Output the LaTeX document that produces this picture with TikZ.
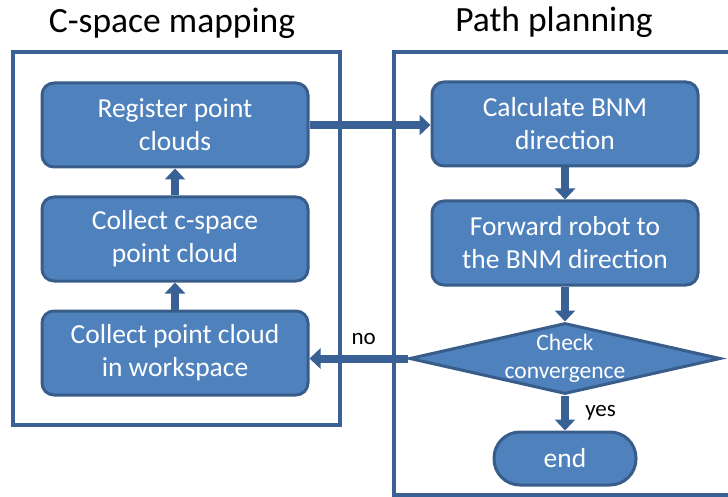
\documentclass[tikz,border=0pt]{standalone}
\usepackage{fontspec}
\setmainfont{Carlito}
\usetikzlibrary{arrows.meta,positioning,shapes.geometric}

\definecolor{boxfill}{HTML}{4F81BD}
\definecolor{boxline}{HTML}{385D8A}
\definecolor{frameline}{HTML}{3A6195}

\begin{document}
\begin{tikzpicture}[
    x=1pt, y=-1pt,
    node distance=27pt,
    box/.style={rectangle, draw=boxline, fill=boxfill, line width=3pt, rounded corners=12pt, minimum width=266pt, minimum height=84pt, align=center, text=white, font=\fontsize{27.5}{33}\selectfont},
    decision/.style={diamond, draw=boxline, fill=boxfill, line width=3pt, aspect=4.3, inner xsep=-2pt, inner ysep=-4pt, minimum width=311pt, minimum height=71pt, align=center, text=white, font=\fontsize{23.5}{28}\selectfont},
    terminal/.style={box, rounded corners=26pt, minimum width=142pt, minimum height=53pt},
    title/.style={anchor=base, font=\fontsize{35.5}{40}\selectfont},
    frame/.style={draw=frameline, line width=3.5pt},
    arrow/.style={-{Triangle[length=11pt, width=20pt]}, draw=frameline, line width=8pt},
    answer/.style={font=\fontsize{23}{26}\selectfont}
]
    \clip (0,0) rectangle (728,497);

    % group frames and titles
    \draw[frame] (13,52) rectangle (340,425);
    \draw[frame] (394,52) rectangle (740,495);
    \node[title] (maptitle) at (172,33) {C-space mapping};
    \node[title] (plantitle) at (554,32) {Path planning};

    % C-space mapping
    \node[box] (register) at (175,125) {Register point\\clouds};
    \node[box, below=of register] (collectc) {Collect c-space\\point cloud};
    \node[box, below=of collectc] (collectw) {Collect point cloud\\in workspace};

    % path planning
    \node[box] (bnm) at (565,124) {Calculate BNM\\direction};
    \node[box, below=32pt of bnm] (forward) {Forward robot to\\the BNM direction};
    \node[decision, below=35pt of forward] (check) {Check\\convergence};
    \node[terminal, below=35pt of check] (end) {end};

    \draw[arrow] (collectw) -- (collectc);
    \draw[arrow] (collectc) -- (register);
    \draw[arrow] (register.east) -- (register.east -| bnm.west);
    \draw[arrow] (bnm) -- (forward);
    \draw[arrow] (forward) -- (check);
    \draw[arrow] (check) -- node[answer, right=13pt] {yes} (end);
    \draw[arrow] (check.west) -- node[answer, above=7pt, pos=0.45] {no} (check.west -| collectw.east);
\end{tikzpicture}
\end{document}
